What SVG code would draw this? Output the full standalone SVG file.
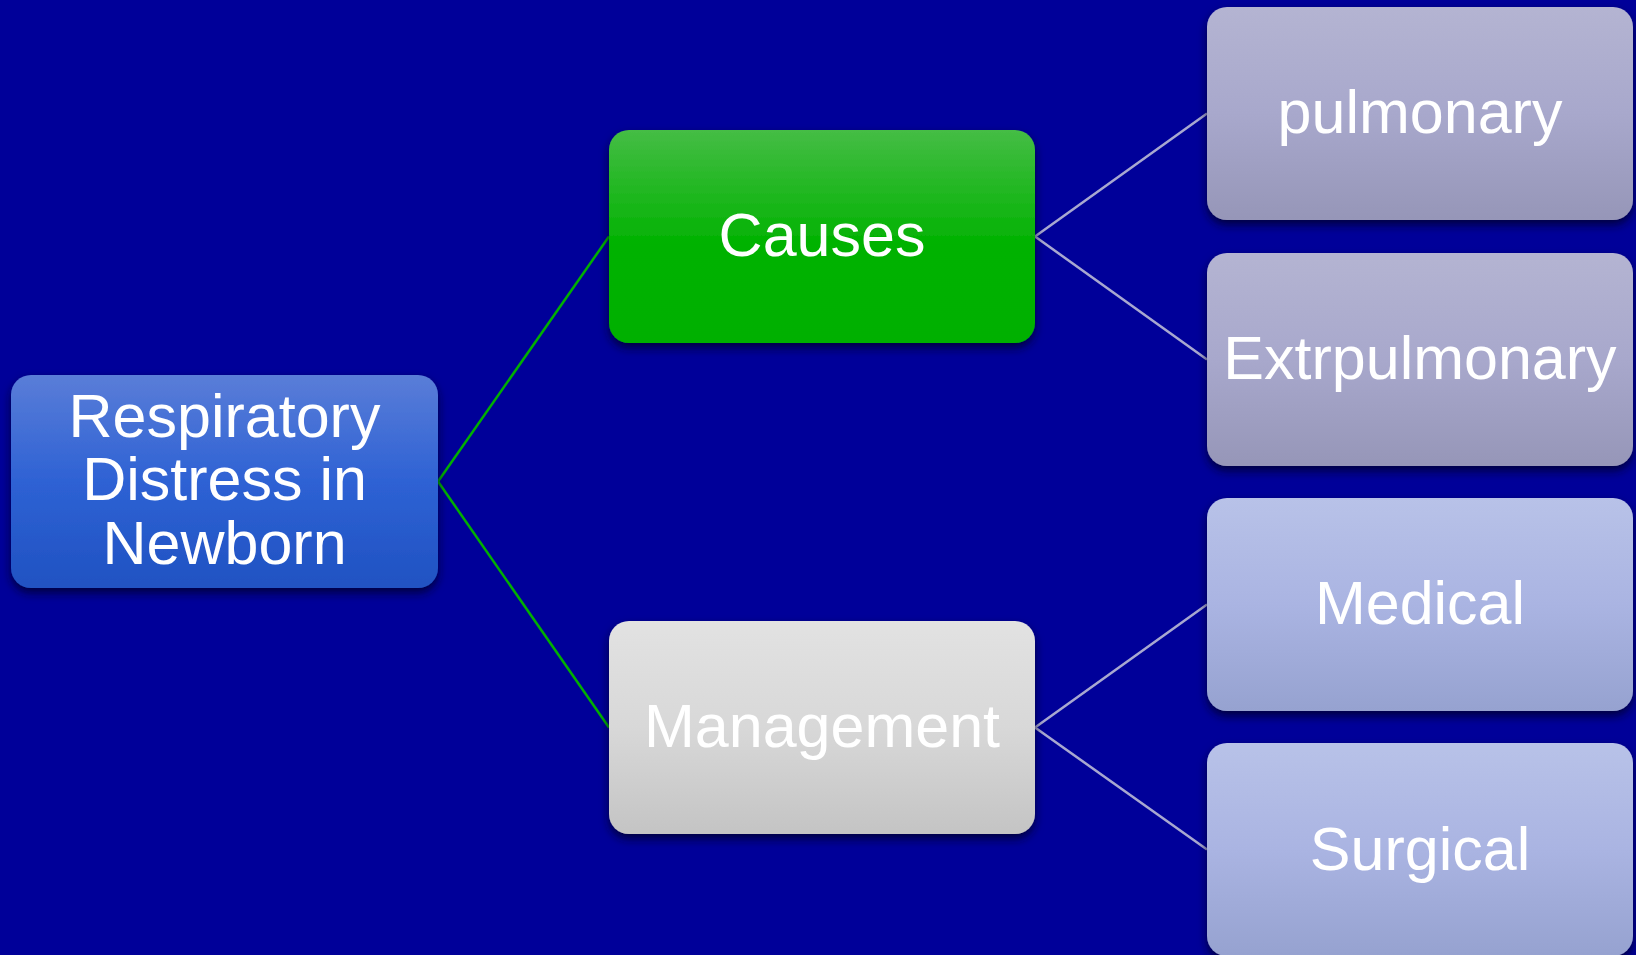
<svg xmlns="http://www.w3.org/2000/svg" width="1636" height="955" viewBox="0 0 1636 955">
<defs>
<linearGradient id="gRoot" x1="0" y1="0" x2="0" y2="1"><stop offset="0" stop-color="#5a7dd8"/><stop offset="0.5" stop-color="#2e62d4"/><stop offset="1" stop-color="#2052c2"/></linearGradient>
<linearGradient id="gCauses" x1="0" y1="0" x2="0" y2="1"><stop offset="0" stop-color="#45bd45"/><stop offset="0.55" stop-color="#00b200"/><stop offset="1" stop-color="#00b000"/></linearGradient>
<linearGradient id="gMgmt" x1="0" y1="0" x2="0" y2="1"><stop offset="0" stop-color="#e2e2e2"/><stop offset="0.5" stop-color="#d8d8d8"/><stop offset="1" stop-color="#c4c4c4"/></linearGradient>
<linearGradient id="gCause2" x1="0" y1="0" x2="0" y2="1"><stop offset="0" stop-color="#b4b4d2"/><stop offset="0.5" stop-color="#a8a8cc"/><stop offset="1" stop-color="#9696b8"/></linearGradient>
<linearGradient id="gMgmt2" x1="0" y1="0" x2="0" y2="1"><stop offset="0" stop-color="#b8c2e8"/><stop offset="0.5" stop-color="#aab4e2"/><stop offset="1" stop-color="#96a2d0"/></linearGradient>
<filter id="sh" x="-10%" y="-10%" width="120%" height="130%"><feDropShadow dx="0" dy="5" stdDeviation="5" flood-color="#000022" flood-opacity="0.75"/></filter>
</defs>
<style>
.box{filter:url(#sh);}
.t{font-family:"Liberation Sans",Arial,sans-serif;font-size:61px;fill:#ffffff;text-anchor:middle;}
.cg{stroke:#00b000;stroke-width:2.5;fill:none;}
.cl{stroke:#a8a8d0;stroke-width:2.5;fill:none;}
</style>
<rect width="1636" height="955" fill="#000099"/>
<g id="connectors">
<line class="cg" x1="438" y1="481.5" x2="609" y2="236.5"/>
<line class="cg" x1="438" y1="481.5" x2="609" y2="727.5"/>
<line class="cl" x1="1035" y1="236.5" x2="1207" y2="113.5"/>
<line class="cl" x1="1035" y1="236.5" x2="1207" y2="359.5"/>
<line class="cl" x1="1035" y1="727.5" x2="1207" y2="604.5"/>
<line class="cl" x1="1035" y1="727.5" x2="1207" y2="849.5"/>
</g>
<g id="root">
<rect class="box" x="11" y="375" width="427" height="213" rx="20" fill="url(#gRoot)"/>
<text class="t" x="224.5" y="437">Respiratory</text>
<text class="t" x="224.5" y="500">Distress in</text>
<text class="t" x="224.5" y="564">Newborn</text>
</g>
<g id="causes">
<rect class="box" x="609" y="130" width="426" height="213" rx="20" fill="url(#gCauses)"/>
<text class="t" x="822" y="256">Causes</text>
</g>
<g id="management">
<rect class="box" x="609" y="621" width="426" height="213" rx="20" fill="url(#gMgmt)"/>
<text class="t" x="822" y="747">Management</text>
</g>
<g id="pulmonary">
<rect class="box" x="1207" y="7" width="426" height="213" rx="20" fill="url(#gCause2)"/>
<text class="t" x="1420" y="133">pulmonary</text>
</g>
<g id="extrpulmonary">
<rect class="box" x="1207" y="253" width="426" height="213" rx="20" fill="url(#gCause2)"/>
<text class="t" x="1420" y="379">Extrpulmonary</text>
</g>
<g id="medical">
<rect class="box" x="1207" y="498" width="426" height="213" rx="20" fill="url(#gMgmt2)"/>
<text class="t" x="1420" y="624">Medical</text>
</g>
<g id="surgical">
<rect class="box" x="1207" y="743" width="426" height="213" rx="20" fill="url(#gMgmt2)"/>
<text class="t" x="1420" y="870">Surgical</text>
</g>
</svg>
